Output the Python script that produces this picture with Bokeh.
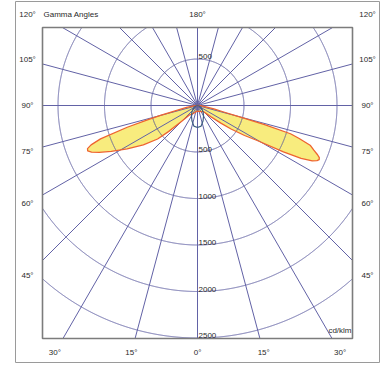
import numpy as np
from bokeh.plotting import figure
from bokeh.models import Range1d
from bokeh.core.properties import value
from bokeh.embed import file_html
from bokeh.resources import INLINE

# ---------------- data ----------------
RING_VALUES = [500, 1000, 1500, 2000, 2500]
RING_LABELS = ["500", "1000", "1500", "2000", "2500"]
TOP_RING_VALUE = 500
TOP_RING_LABEL = "500"
SPOKE_ANGLES = list(range(0, 360, 15))
BOTTOM_GAMMAS = [-30, -15, 0, 15, 30]
BOTTOM_LABELS = ["30°", "15°", "0°", "15°", "30°"]
SIDE_GAMMAS = [45, 60, 75, 90, 105, 120]
SIDE_LABELS = ["45°", "60°", "75°", "90°", "105°", "120°"]
TOP_GAMMA_LABEL = "180°"
TITLE = "Gamma Angles"
UNIT = "cd/klm"

# C0 plane (right)  gamma [deg], intensity [cd/klm]
GAMMA_RIGHT = [0, 15, 30, 40, 45, 50, 53, 55, 57.5, 59.6, 61.6, 63, 64.2, 65.2, 66,
               66.8, 67.7, 69, 70.5, 72, 73.1, 74, 74.8, 76, 78, 82, 86, 90]
I_RIGHT = [60, 65, 75, 85, 100, 190, 320, 440, 600, 744, 1050, 1250, 1370, 1415, 1432,
           1425, 1395, 1340, 1289, 1150, 1045, 750, 479, 300, 180, 80, 30, 0]
# C180 plane (left)
GAMMA_LEFT = [0, 15, 26.6, 35, 40, 45, 48, 50, 54, 58.4, 62, 64.5, 66.2, 67.5, 68.6,
              69.7, 71, 72.8, 74, 74.9, 77, 80, 85, 90]
I_LEFT = [60, 70, 96, 115, 130, 240, 420, 560, 720, 888, 1050, 1170, 1245, 1278, 1270,
          1220, 1103, 791, 560, 412, 220, 120, 40, 0]
# C90-C270 plane (symmetric)
GAMMA_C90 = [0, 10, 20, 30, 40, 50, 60, 75, 90]
I_C90 = [237, 225, 175, 130, 95, 65, 43, 19, 0]

# ---------------- layout (pixels) ----------------
W, H = 380, 365
CX, CY = 197, 105
PX = 500 / 46.5
BOX_L, BOX_R, BOX_T, BOX_B = -155 * PX, 155 * PX, 78 * PX, -233 * PX
OUT_L, OUT_R, OUT_T, OUT_B = -182 * PX, 182 * PX, 104 * PX, -257 * PX
LAB_SIDE, LAB_TOP, LAB_BOT = 170 * PX, 91 * PX, -247 * PX

FONT = value("Liberation Sans")
FS = "8px"
TXT = "#2a2a2a"
GRID = "#6262a6"

p = figure(width=W, height=H,
           x_range=Range1d(-CX * PX, (W - CX) * PX),
           y_range=Range1d(-(H - CY) * PX, CY * PX),
           output_backend="svg", toolbar_location=None, min_border=0,
           x_axis_location=None, y_axis_location=None,
           outline_line_color=None, background_fill_color="white",
           border_fill_color="white")
p.grid.visible = False


def polar(g_deg, r, side=1):
    g = np.radians(np.asarray(g_deg, dtype=float))
    r = np.asarray(r, dtype=float)
    return side * r * np.sin(g), -r * np.cos(g)


def inside(x, y):
    e = 1e-6
    return (x >= BOX_L - e) & (x <= BOX_R + e) & (y >= BOX_B - e) & (y <= BOX_T + e)


# frames
p.quad(left=[OUT_L], right=[OUT_R], top=[OUT_T], bottom=[OUT_B],
       fill_color=None, line_color="#9a9a9a", line_width=1)

# lobe fill (C0/C180)
lx, ly = polar(GAMMA_LEFT[::-1], I_LEFT[::-1], side=-1)
rx, ry = polar(GAMMA_RIGHT, I_RIGHT, side=1)
lobe_x = np.concatenate([lx, rx])
lobe_y = np.concatenate([ly, ry])
p.patch(lobe_x, lobe_y, fill_color="#f8ec7e", line_color=None)

# rings, clipped to box
xs, ys = [], []
th = np.radians(np.arange(0, 360.0001, 0.05))
for rv in RING_VALUES:
    x = rv * np.sin(th)
    y = -rv * np.cos(th)
    m = inside(x, y)
    seg_x, seg_y = [], []
    for xi, yi, mi in zip(x, y, m):
        if mi:
            seg_x.append(xi); seg_y.append(yi)
        elif seg_x:
            xs.append(seg_x); ys.append(seg_y); seg_x, seg_y = [], []
    if seg_x:
        xs.append(seg_x); ys.append(seg_y)
p.multi_line(xs, ys, line_color=GRID, line_width=1)

# spokes
sx, sy = [], []
for g in SPOKE_ANGLES:
    dx, dy = np.sin(np.radians(g)), -np.cos(np.radians(g))
    ts = []
    if dx > 1e-9: ts.append(BOX_R / dx)
    if dx < -1e-9: ts.append(BOX_L / dx)
    if dy > 1e-9: ts.append(BOX_T / dy)
    if dy < -1e-9: ts.append(BOX_B / dy)
    t = min(ts)
    sx.append([0, t * dx]); sy.append([0, t * dy])
p.multi_line(sx, sy, line_color=GRID, line_width=1)

# inner box
p.quad(left=[BOX_L], right=[BOX_R], top=[BOX_T], bottom=[BOX_B],
       fill_color=None, line_color="#7c7c7c", line_width=1.6)

# lobe outline
p.line(np.append(lobe_x, lobe_x[0]), np.append(lobe_y, lobe_y[0]),
       line_color="#ee6430", line_width=1.3, line_join="round")

# C90 loop
cl_x, cl_y = polar(GAMMA_C90[::-1], I_C90[::-1], side=-1)
cr_x, cr_y = polar(GAMMA_C90, I_C90, side=1)
p.line(np.concatenate([cl_x, cr_x]), np.concatenate([cl_y, cr_y]),
       line_color="#3f5f82", line_width=1.2)

# ring labels
p.text(x=[1 * PX] * len(RING_VALUES), y=[-v for v in RING_VALUES], text=RING_LABELS,
       text_font=FONT, text_font_size=FS, text_color=TXT,
       text_align="left", text_baseline="bottom")
p.text(x=[1 * PX], y=[TOP_RING_VALUE], text=[TOP_RING_LABEL],
       text_font=FONT, text_font_size=FS, text_color=TXT,
       text_align="left", text_baseline="bottom")

# gamma labels
gx, gy, gt = [], [], []
for g, lab in zip(BOTTOM_GAMMAS, BOTTOM_LABELS):
    gx.append(np.tan(np.radians(g)) * (-LAB_BOT)); gy.append(LAB_BOT); gt.append(lab)
for g, lab in zip(SIDE_GAMMAS, SIDE_LABELS):
    gr = np.radians(g)
    yv = min(-np.cos(gr) * LAB_SIDE / np.sin(gr), LAB_TOP)
    for s in (-1, 1):
        gx.append(s * LAB_SIDE); gy.append(yv); gt.append(lab)
gx.append(0); gy.append(LAB_TOP); gt.append(TOP_GAMMA_LABEL)
p.text(x=gx, y=gy, text=gt, text_font=FONT, text_font_size=FS, text_color=TXT,
       text_align="center", text_baseline="middle")

p.text(x=[BOX_L + 1 * PX], y=[LAB_TOP], text=[TITLE], text_font=FONT,
       text_font_size=FS, text_color=TXT, text_align="left", text_baseline="middle")
p.text(x=[BOX_R - 1 * PX], y=[BOX_B + 4 * PX], text=[UNIT], text_font=FONT,
       text_font_size=FS, text_color=TXT, text_align="right", text_baseline="bottom")

open("out.html", "w").write(file_html(p, INLINE))
